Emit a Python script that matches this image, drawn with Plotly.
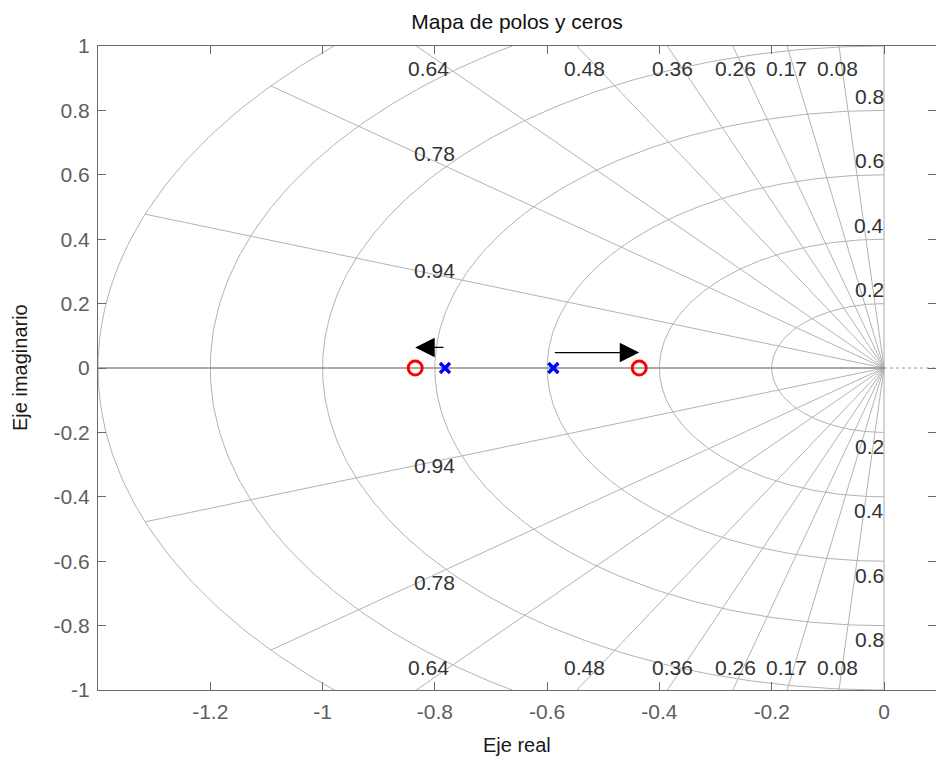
import numpy as np
import plotly.graph_objects as go

# ---------------- data ----------------
zeta_vals = [0.08, 0.17, 0.26, 0.36, 0.48, 0.64, 0.78, 0.94]
wn_vals = [0.2, 0.4, 0.6, 0.8, 1.0, 1.2, 1.4]
wn_label_vals = [0.2, 0.4, 0.6, 0.8]

pole_re = [-0.782, -0.589]
pole_im = [0.0, 0.0]
zero_re = [-0.835, -0.436]
zero_im = [0.0, 0.0]

x_tick_vals = [-1.2, -1.0, -0.8, -0.6, -0.4, -0.2, 0.0]
x_tick_text = ["-1.2", "-1", "-0.8", "-0.6", "-0.4", "-0.2", "0"]
y_tick_vals = [-1.0, -0.8, -0.6, -0.4, -0.2, 0.0, 0.2, 0.4, 0.6, 0.8, 1.0]
y_tick_text = ["-1", "-0.8", "-0.6", "-0.4", "-0.2", "0", "0.2", "0.4", "0.6", "0.8", "1"]

# label anchor positions for damping-ratio labels
edge_zetas = [0.64, 0.48, 0.36, 0.26, 0.17, 0.08]
edge_label_x = [-0.812, -0.533, -0.376, -0.264, -0.173, -0.082]
edge_label_y = 0.929
inner_zetas = [0.78, 0.94]
inner_label_x = [-0.801, -0.801]
inner_label_y = [0.666, 0.304]

arrow_y = [0.064, 0.048]

title = "Mapa de polos y ceros"
xlabel = "Eje real"
ylabel = "Eje imaginario"

# ---------------- figure ----------------
FONT = "Liberation Sans, Arial, Helvetica, sans-serif"
GRID = "#b3b3b3"
rmax = max(wn_vals)

fig = go.Figure()

# damping ratio lines
gx, gy = [], []
for z in zeta_vals:
    s = np.sqrt(1 - z * z)
    for sign in (1, -1):
        gx += [0, -rmax * z, None]
        gy += [0, sign * rmax * s, None]
# natural frequency arcs
th = np.linspace(np.pi / 2, 3 * np.pi / 2, 241)
for w in wn_vals:
    gx += list(w * np.cos(th)) + [None]
    gy += list(w * np.sin(th)) + [None]
fig.add_trace(go.Scatter(x=gx, y=gy, mode="lines",
                         line=dict(color=GRID, width=1),
                         hoverinfo="skip", showlegend=False))
# imaginary axis (zeta = 0)
fig.add_trace(go.Scatter(x=[0, 0], y=[-rmax, rmax], mode="lines",
                         line=dict(color="#a8a8a8", width=1),
                         hoverinfo="skip", showlegend=False))
# real axis
fig.add_trace(go.Scatter(x=[-rmax, 0], y=[0, 0], mode="lines",
                         line=dict(color="#8c8c8c", width=1.5),
                         hoverinfo="skip", showlegend=False))
fig.add_trace(go.Scatter(x=[0, 0.2], y=[0, 0], mode="lines",
                         line=dict(color="#9a9a9a", width=1, dash="dot"),
                         hoverinfo="skip", showlegend=False))

# zeros
fig.add_trace(go.Scatter(x=zero_re, y=zero_im, mode="markers",
                         marker=dict(symbol="circle-open", size=14, color="#ff0000",
                                     line=dict(color="#ff0000", width=3)),
                         hoverinfo="skip", showlegend=False))
# poles
fig.add_trace(go.Scatter(x=pole_re, y=pole_im, mode="markers",
                         marker=dict(symbol="x-thin-open", size=10, color="#0000ff",
                                     line=dict(color="#0000ff", width=3.4)),
                         hoverinfo="skip", showlegend=False))

annotations = []
LBL = dict(family=FONT, size=21, color="#333333")
for z, lx in zip(edge_zetas, edge_label_x):
    for sgn in (1, -1):
        annotations.append(dict(x=lx, y=sgn * edge_label_y, xref="x", yref="y",
                                text=f"{z:.2f}", showarrow=False, font=LBL,
                                xanchor="center", yanchor="middle"))
for z, lx, ly in zip(inner_zetas, inner_label_x, inner_label_y):
    for sgn in (1, -1):
        annotations.append(dict(x=lx, y=sgn * ly, xref="x", yref="y",
                                text=f"{z:.2f}", showarrow=False, font=LBL,
                                xanchor="center", yanchor="middle"))
for w in wn_label_vals:
    for sgn in (1, -1):
        annotations.append(dict(x=0, y=sgn * w, xref="x", yref="y",
                                text=f"{w:.1f}", showarrow=False, font=LBL,
                                xanchor="right", yanchor="middle",
                                xshift=2, yshift=sgn * 14))

# arrows from pole to zero
for p, zz, ay in zip(pole_re, [zero_re[0], zero_re[1]], arrow_y):
    annotations.append(dict(x=zz, y=ay, ax=p, ay=ay, xref="x", yref="y",
                            axref="x", ayref="y", text="", showarrow=True,
                            arrowhead=2, arrowsize=3.0, arrowwidth=1.3,
                            arrowcolor="#000000", standoff=0, startstandoff=0))

# axis labels
annotations.append(dict(x=(517 - 98) / 838, y=(690 - 745) / 644, xref="paper", yref="paper",
                        text=xlabel, showarrow=False,
                        font=dict(family=FONT, size=20, color="#1a1a1a"),
                        xanchor="center", yanchor="middle"))
annotations.append(dict(x=(20 - 98) / 838, y=0.5, xref="paper", yref="paper",
                        text=ylabel, showarrow=False, textangle=-90,
                        font=dict(family=FONT, size=20, color="#1a1a1a"),
                        xanchor="center", yanchor="middle"))

AX = "#6b6b6b"
fig.update_layout(
    width=936, height=763,
    margin=dict(l=98, r=0, t=46, b=73),
    plot_bgcolor="white", paper_bgcolor="white",
    title=dict(text=title, x=(517 - 0) / 936, xanchor="center",
               y=1 - 22 / 763, yanchor="middle",
               font=dict(family=FONT, size=21, color="#111111")),
    annotations=annotations,
    hovermode=False,
    xaxis=dict(range=[-1.4, 0.0926], showgrid=False, zeroline=False,
               tickvals=x_tick_vals, ticktext=x_tick_text,
               ticks="inside", ticklen=8, tickcolor=AX, tickwidth=1,
               showline=True, linecolor=AX, linewidth=1, mirror="ticks",
               tickfont=dict(family=FONT, size=21, color="#5e5e5e"),
               ticklabelstandoff=3),
    yaxis=dict(range=[-1, 1], showgrid=False, zeroline=False,
               tickvals=y_tick_vals, ticktext=y_tick_text,
               ticks="inside", ticklen=8, tickcolor=AX, tickwidth=1,
               showline=True, linecolor=AX, linewidth=1, mirror="ticks",
               tickfont=dict(family=FONT, size=21, color="#5e5e5e"),
               ticklabelstandoff=3),
)

fig.write_html("out.html", config={"displayModeBar": False},
               post_script="document.body.style.margin='0px';document.body.style.overflow='hidden';")
